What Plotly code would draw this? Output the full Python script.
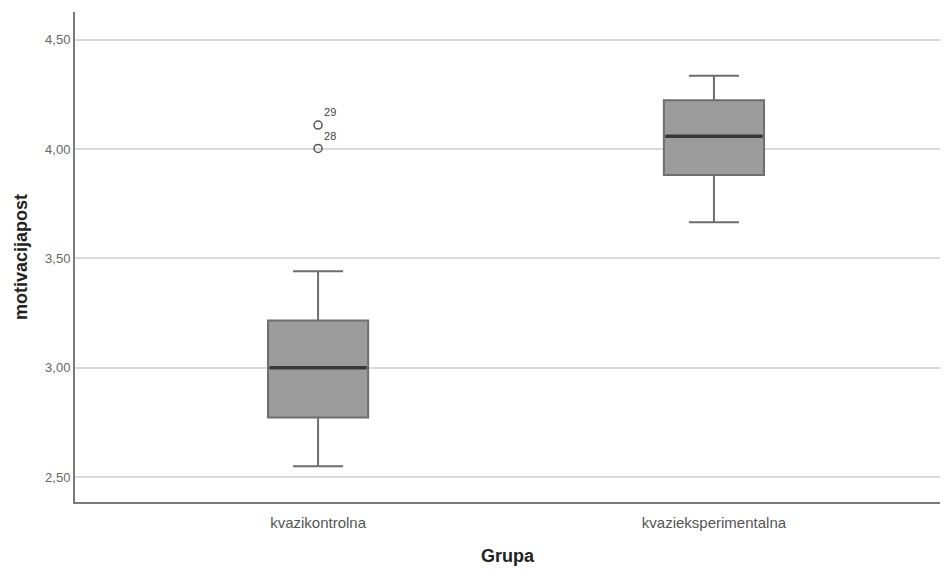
import plotly.graph_objects as go

categories = ["kvazikontrolna", "kvazieksperimentalna"]
lower_whisker = [2.55, 3.665]
q1 = [2.773, 3.882]
median = [3.0, 4.059]
q3 = [3.216, 4.223]
upper_whisker = [3.441, 4.336]
outlier_values = [4.003, 4.11]
outlier_labels = ["28", "29"]
outlier_group = [0, 0]

xpos = list(range(len(categories)))
BOX_W = 0.253
FONT = "Liberation Sans, Arial, sans-serif"

fig = go.Figure()
fig.add_trace(go.Box(
    x=xpos, q1=q1, median=median, q3=q3,
    lowerfence=lower_whisker, upperfence=upper_whisker,
    width=BOX_W, whiskerwidth=0.5,
    fillcolor="#9c9c9c", line=dict(color="#6e6e6e", width=2),
    boxpoints=False, showlegend=False, hoverinfo="skip",
))
# thicker dark median lines
for xi, m in zip(xpos, median):
    fig.add_trace(go.Scatter(
        x=[xi - BOX_W / 2 + 0.004, xi + BOX_W / 2 - 0.004], y=[m, m], mode="lines",
        line=dict(color="#383838", width=3.5), showlegend=False, hoverinfo="skip"))

fig.add_trace(go.Scatter(
    x=[xpos[g] for g in outlier_group], y=outlier_values, mode="markers+text",
    marker=dict(symbol="circle-open", size=8, color="#555555", line=dict(width=1.5)),
    text=outlier_labels, textposition="top right",
    textfont=dict(family=FONT, size=11, color="#444444"),
    showlegend=False, hoverinfo="skip"))

fig.add_annotation(
    text="<b>Grupa</b>", xref="paper", yref="paper", x=0.5, y=0,
    xanchor="center", yanchor="middle", yshift=-54, showarrow=False,
    font=dict(family=FONT, size=18, color="#222222"))

fig.update_layout(
    width=932, height=558,
    margin=dict(l=67, r=0, t=4, b=64, autoexpand=False),
    paper_bgcolor="white", plot_bgcolor="white",
    font=dict(family=FONT, color="#555555"),
    xaxis=dict(
        range=[-0.614, 1.571], tickvals=xpos, ticktext=categories,
        showgrid=False, zeroline=False,
        showline=True, linecolor="#7a7a7a", linewidth=2,
        ticks="", ticklabelstandoff=6, tickfont=dict(size=15, color="#555555"),
    ),
    yaxis=dict(
        range=[2.386, 4.627],
        tickvals=[2.5, 3.0, 3.5, 4.0, 4.5],
        ticktext=["2,50", "3,00", "3,50", "4,00", "4,50"],
        showgrid=True, gridcolor="#d9d9d9", gridwidth=2, zeroline=False,
        showline=True, linecolor="#7a7a7a", linewidth=2,
        ticks="", tickfont=dict(size=13, color="#666666"),
        title=dict(text="<b>motivacijapost</b>", font=dict(size=18, color="#222222"), standoff=13),
    ),
)

fig.write_html("out.html")
